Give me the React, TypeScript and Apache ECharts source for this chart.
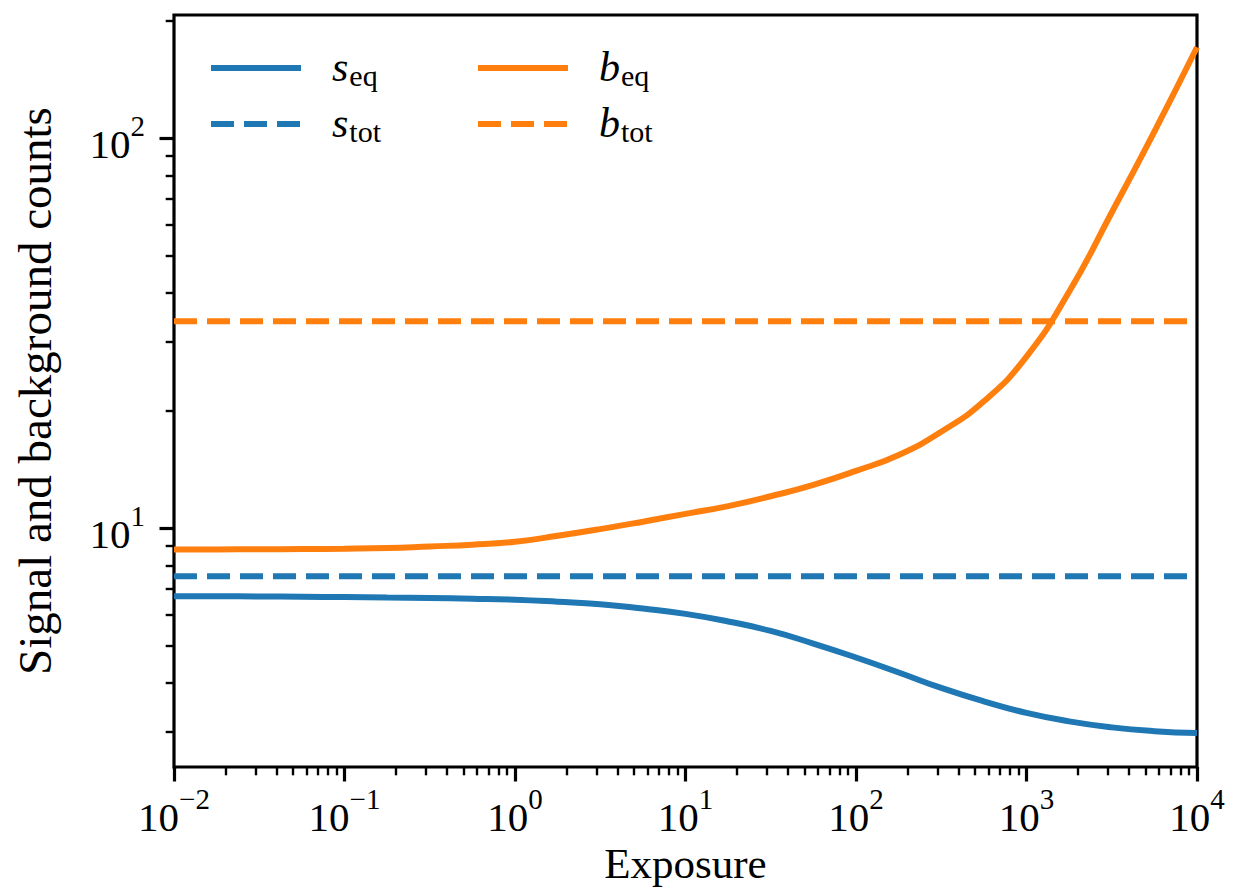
import React, { useEffect, useRef } from 'react';
import * as echarts from 'echarts';

// ---- data ----
const exposure = [
  0.01, 0.0178, 0.0316, 0.0562, 0.1, 0.178, 0.316, 0.562,
  1, 1.78, 3.16, 5.62, 10, 17.8, 31.6, 56.2,
  100, 178, 316, 562, 1000, 1778, 3162, 5623, 10000,
];
const sEq = [
  6.683, 6.683, 6.675, 6.664, 6.652, 6.632, 6.613, 6.586,
  6.547, 6.47, 6.376, 6.216, 6.025, 5.761, 5.447, 5.057,
  4.657, 4.262, 3.891, 3.594, 3.358, 3.194, 3.083, 3.015, 2.981,
];
const bEq = [
  8.806, 8.811, 8.821, 8.832, 8.847, 8.884, 8.968, 9.058,
  9.22, 9.549, 9.935, 10.38, 10.87, 11.38, 12.06, 12.9,
  14.01, 15.39, 17.65, 21.12, 27.5, 40.3, 64.38, 103.8, 170.7,
];
const sTot = 7.52;
const bTot = 33.9;
const xRange = [0.01, 10000];
const yRange = [2.44, 206.5];
const xMajorTicks = [0.01, 0.1, 1, 10, 100, 1000, 10000];
const xMinorTicks = [
  0.02, 0.03, 0.04, 0.05, 0.06, 0.07, 0.08, 0.09,
  0.2, 0.3, 0.4, 0.5, 0.6, 0.7, 0.8, 0.9,
  2, 3, 4, 5, 6, 7, 8, 9,
  20, 30, 40, 50, 60, 70, 80, 90,
  200, 300, 400, 500, 600, 700, 800, 900,
  2000, 3000, 4000, 5000, 6000, 7000, 8000, 9000,
];
const yMajorTicks = [10, 100];
const yMinorTicks = [3, 4, 5, 6, 7, 8, 9, 20, 30, 40, 50, 60, 70, 80, 90, 200];
const seriesNames = ['s_eq', 's_tot', 'b_eq', 'b_tot'];
const xTitle = 'Exposure';
const yTitle = 'Signal and background counts';

const BLUE = '#1f77b4';
const ORANGE = '#ff7f0e';
const FONT = 'Liberation Serif';
const LW = 6;

const powLabel = (v: number) => {
  const e = Math.round(Math.log10(v));
  const s = e < 0 ? '\u2212' + Math.abs(e) : String(e);
  return `{b|10}{s|${s}}`;
};
const powRich = {
  b: { fontFamily: FONT, fontSize: 41, lineHeight: 53, verticalAlign: 'bottom', color: '#000' },
  s: { fontFamily: FONT, fontSize: 29, lineHeight: 29, verticalAlign: 'top', color: '#000' },
};

const legendRich = {
  it: { fontFamily: FONT, fontStyle: 'italic', fontSize: 42, lineHeight: 44, verticalAlign: 'top', color: '#000', padding: [0, 0, 0, 26] },
  sub: { fontFamily: FONT, fontSize: 30, lineHeight: 30, verticalAlign: 'bottom', color: '#000', padding: [18, 0, 0, 1] },
};
const legendFormatter = (name: string) => {
  const [a, b] = name.split('_');
  return `{it|${a}}{sub|${b}}`;
};

export default function App() {
  const ref = useRef<HTMLDivElement>(null);
  useEffect(() => {
    if (!ref.current) return;
    const chart = echarts.init(ref.current, undefined, { renderer: 'svg' });
    const pts = (ys: number[]) => exposure.map((x, i) => [x, ys[i]]);
    const flat = (v: number) => [[xRange[0], v], [xRange[1], v]];
    const legendCommon = {
      orient: 'vertical',
      top: 42,
      padding: 0,
      itemWidth: 90,
      itemHeight: 40,
      itemGap: 8,
      formatter: legendFormatter,
      textStyle: { rich: legendRich },
      lineStyle: { width: LW },
      itemStyle: { color: 'transparent', borderColor: 'transparent', borderWidth: 0, opacity: 0 },
      selectedMode: false,
    };
    chart.setOption({
      animation: false,
      backgroundColor: '#fff',
      grid: {
        left: 174, right: 57, top: 15, bottom: 121,
        outerBoundsMode: 'none',
        containLabel: false,
        show: true, borderColor: '#000', borderWidth: 3.2, backgroundColor: 'transparent',
      },
      legend: [
        { ...legendCommon, left: 208, data: [seriesNames[0], seriesNames[1]] },
        { ...legendCommon, left: 475, data: [seriesNames[2], seriesNames[3]] },
      ],
      xAxis: [
        {
          type: 'log', min: xRange[0], max: xRange[1], position: 'bottom',
          name: xTitle, nameLocation: 'middle', nameGap: 74,
          nameTextStyle: { fontFamily: FONT, fontSize: 43, color: '#000' },
          axisLine: { show: false },
          splitLine: { show: false },
          axisTick: { customValues: xMajorTicks, length: 14.5, lineStyle: { color: '#000', width: 3.2 } },
          axisLabel: { customValues: xMajorTicks, margin: 17, formatter: powLabel, rich: powRich },
        },
        {
          type: 'log', min: xRange[0], max: xRange[1], position: 'bottom',
          axisLine: { show: false },
          splitLine: { show: false },
          axisTick: { customValues: xMinorTicks, length: 8.3, lineStyle: { color: '#000', width: 2.4 } },
          axisLabel: { show: false },
        },
      ],
      yAxis: [
        {
          type: 'log', min: yRange[0], max: yRange[1], position: 'left',
          name: yTitle, nameLocation: 'middle', nameGap: 116,
          nameTextStyle: { fontFamily: FONT, fontSize: 47, color: '#000' },
          axisLine: { show: false },
          splitLine: { show: false },
          axisTick: { customValues: yMajorTicks, length: 14.5, lineStyle: { color: '#000', width: 3.2 } },
          axisLabel: { customValues: yMajorTicks, margin: 29, formatter: powLabel, rich: powRich },
        },
        {
          type: 'log', min: yRange[0], max: yRange[1], position: 'left',
          axisLine: { show: false },
          splitLine: { show: false },
          axisTick: { customValues: yMinorTicks, length: 8.3, lineStyle: { color: '#000', width: 2.4 } },
          axisLabel: { show: false },
        },
      ],
      series: [
        {
          name: seriesNames[0], type: 'line', data: pts(sEq), smooth: 0.5, symbol: 'none',
          lineStyle: { color: BLUE, width: LW }, itemStyle: { color: BLUE },
        },
        {
          name: seriesNames[1], type: 'line', data: flat(sTot), symbol: 'none',
          lineStyle: { color: BLUE, width: LW, type: [23, 10] }, itemStyle: { color: BLUE },
        },
        {
          name: seriesNames[2], type: 'line', data: pts(bEq), smooth: 0.5, symbol: 'none',
          lineStyle: { color: ORANGE, width: LW }, itemStyle: { color: ORANGE },
        },
        {
          name: seriesNames[3], type: 'line', data: flat(bTot), symbol: 'none',
          lineStyle: { color: ORANGE, width: LW, type: [23, 10] }, itemStyle: { color: ORANGE },
        },
      ],
    });
    return () => chart.dispose();
  }, []);
  return (
    <div
      ref={ref}
      style={{ position: 'fixed', left: 0, top: 0, width: 1254, height: 888, background: '#fff' }}
    />
  );
}
